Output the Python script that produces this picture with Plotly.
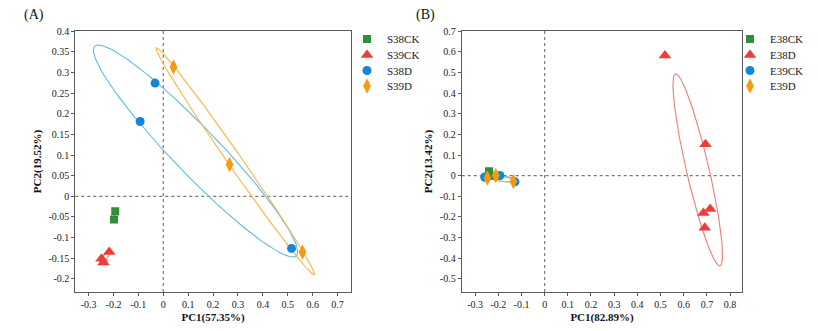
import numpy as np
import plotly.graph_objects as go

# ---- PCA scores, panel A (soil samples) ----
a_groups = ["S38CK", "S39CK", "S38D", "S39D"]
a_pc1 = {
    "S38CK": [-0.193, -0.198],
    "S39CK": [-0.217, -0.248, -0.240],
    "S38D": [-0.033, -0.093, 0.515],
    "S39D": [0.041, 0.266, 0.559],
}
a_pc2 = {
    "S38CK": [-0.036, -0.056],
    "S39CK": [-0.135, -0.151, -0.160],
    "S38D": [0.274, 0.181, -0.126],
    "S39D": [0.313, 0.077, -0.135],
}

# ---- PCA scores, panel B ----
b_groups = ["E38CK", "E38D", "E39CK", "E39D"]
b_pc1 = {
    "E38CK": [-0.240, -0.252, -0.222],
    "E38D": [0.519, 0.694, 0.714, 0.685, 0.691],
    "E39CK": [-0.259, -0.193, -0.128],
    "E39D": [-0.247, -0.211, -0.135],
}
b_pc2 = {
    "E38CK": [0.021, -0.008, 0.000],
    "E38D": [0.582, 0.152, -0.161, -0.181, -0.252],
    "E39CK": [-0.007, 0.001, -0.030],
    "E39D": [-0.011, 0.001, -0.028],
}

# axis titles and ticks
a_xtitle, a_ytitle = "PC1(57.35%)", "PC2(19.52%)"
b_xtitle, b_ytitle = "PC1(82.89%)", "PC2(13.42%)"
a_xticks = [-0.3, -0.2, -0.1, 0, 0.1, 0.2, 0.3, 0.4, 0.5, 0.6, 0.7]
a_yticks = [-0.2, -0.15, -0.1, -0.05, 0, 0.05, 0.1, 0.15, 0.2, 0.25, 0.3, 0.35, 0.4]
b_xticks = [-0.3, -0.2, -0.1, 0, 0.1, 0.2, 0.3, 0.4, 0.5, 0.6, 0.7, 0.8]
b_yticks = [-0.5, -0.4, -0.3, -0.2, -0.1, 0, 0.1, 0.2, 0.3, 0.4, 0.5, 0.6, 0.7]

# marker styles by position in the group list
symbols = ["square", "triangle-up", "circle", "diamond-tall"]
sizes = [8, 11, 9, 11]
marker_colors = ["#2f8f38", "#f23a3a", "#1585d8", "#f79a12"]
ellipse_colors = ["#7cc27f", "#f37b7b", "#63b9e8", "#f9b447"]

FONT = "Liberation Serif"
W, H = 818, 331

# one single-entry legend per group so the rows sit close together
legend_left_px = {"a": 347, "b": 730}
legend_row_px = [39, 55, 70.5, 86]


def tick_text(vals):
    out = []
    for v in vals:
        s = f"{v:.2f}".rstrip("0").rstrip(".")
        out.append("0" if s in ("-0", "0") else s)
    return out


def ellipse(xs, ys, k=1.5, n=200):
    pts = np.vstack([xs, ys])
    c = pts.mean(axis=1)
    cov = np.cov(pts, bias=True)
    vals, vecs = np.linalg.eigh(cov)
    vals = np.clip(vals, 0, None)
    t = np.linspace(0, 2 * np.pi, n)
    circ = np.vstack([np.cos(t), np.sin(t)]) * (k * np.sqrt(vals))[:, None]
    e = c[:, None] + vecs @ circ
    return e[0], e[1]


fig = go.Figure()
legends = {}


def add_panel(key, groups, px, py, xa, ya, first_legend):
    for i, g in enumerate(groups):
        ex, ey = ellipse(px[g], py[g])
        fig.add_trace(go.Scatter(
            x=ex, y=ey, mode="lines", xaxis=xa, yaxis=ya,
            line=dict(color=ellipse_colors[i], width=1.1),
            hoverinfo="skip", showlegend=False))
    for i, g in enumerate(groups):
        n = first_legend + i
        name = "legend" if n == 1 else f"legend{n}"
        legends[name] = dict(
            x=legend_left_px[key] / W, y=1 - legend_row_px[i] / H,
            xanchor="left", yanchor="middle",
            font=dict(family=FONT, size=11, color="#222"),
            bgcolor="rgba(0,0,0,0)", borderwidth=0, itemsizing="trace")
        fig.add_trace(go.Scatter(
            x=px[g], y=py[g], mode="markers", name=g, xaxis=xa, yaxis=ya,
            legend=name,
            marker=dict(symbol=symbols[i], size=sizes[i], color=marker_colors[i],
                        line=dict(width=0))))


add_panel("a", a_groups, a_pc1, a_pc2, "x", "y", 1)
add_panel("b", b_groups, b_pc1, b_pc2, "x2", "y2", 5)

axis_common = dict(
    showgrid=False, zeroline=False, showline=True, mirror=True,
    linecolor="#5a5a5a", linewidth=1, ticks="outside", ticklen=3,
    tickcolor="#5a5a5a", tickfont=dict(family=FONT, size=10, color="#222"),
    automargin=False,
)
title_font = dict(family=FONT, size=11, color="#111")

fig.update_layout(
    width=W, height=H, margin=dict(l=0, r=0, t=0, b=0, autoexpand=False),
    plot_bgcolor="white", paper_bgcolor="white",
    xaxis=dict(domain=[0.092, 0.429], range=[-0.3535, 0.7535],
               tickmode="array", tickvals=a_xticks, ticktext=tick_text(a_xticks),
               title=dict(text="<b>" + a_xtitle + "</b>", font=title_font, standoff=4),
               anchor="y", **axis_common),
    yaxis=dict(domain=[0.1178, 0.9063], range=[-0.2315, 0.4],
               tickmode="array", tickvals=a_yticks, ticktext=tick_text(a_yticks),
               title=dict(text="<b>" + a_ytitle + "</b>", font=title_font, standoff=4),
               anchor="x", **axis_common),
    xaxis2=dict(domain=[0.5644, 0.9075], range=[-0.358, 0.853],
                tickmode="array", tickvals=b_xticks, ticktext=tick_text(b_xticks),
                title=dict(text="<b>" + b_xtitle + "</b>", font=title_font, standoff=4),
                anchor="y2", **axis_common),
    yaxis2=dict(domain=[0.1178, 0.9063], range=[-0.563, 0.7],
                tickmode="array", tickvals=b_yticks, ticktext=tick_text(b_yticks),
                title=dict(text="<b>" + b_ytitle + "</b>", font=title_font, standoff=4),
                anchor="x2", **axis_common),
    shapes=[
        dict(type="line", xref="x", yref="y domain", x0=0, x1=0, y0=0, y1=1,
             line=dict(color="#777", width=1.2, dash="dot"), layer="below"),
        dict(type="line", xref="x domain", yref="y", x0=0, x1=1, y0=0, y1=0,
             line=dict(color="#777", width=1.2, dash="dot"), layer="below"),
        dict(type="line", xref="x2", yref="y2 domain", x0=0, x1=0, y0=0, y1=1,
             line=dict(color="#777", width=1.2, dash="dot"), layer="below"),
        dict(type="line", xref="x2 domain", yref="y2", x0=0, x1=1, y0=0, y1=0,
             line=dict(color="#777", width=1.2, dash="dot"), layer="below"),
    ],
    annotations=[
        dict(text="(A)", xref="paper", yref="paper", x=22 / W, y=1 - 15 / H,
             xanchor="left", yanchor="middle", showarrow=False,
             font=dict(family=FONT, size=14, color="#111")),
        dict(text="(B)", xref="paper", yref="paper", x=414 / W, y=1 - 15 / H,
             xanchor="left", yanchor="middle", showarrow=False,
             font=dict(family=FONT, size=14, color="#111")),
    ],
)
fig.update_layout(**legends)

fig.write_html("out.html")
